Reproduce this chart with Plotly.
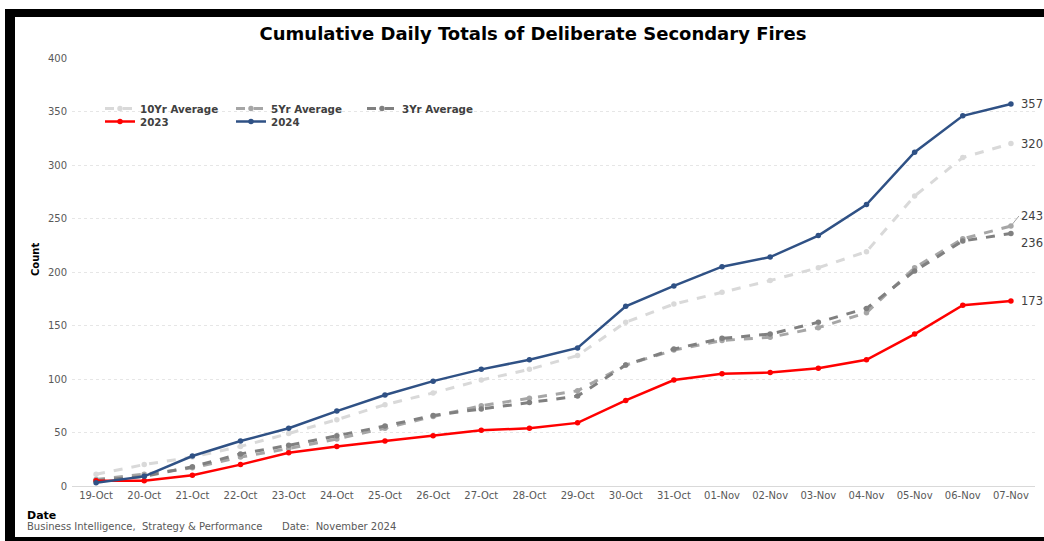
import plotly.graph_objects as go

dates = ["19-Oct", "20-Oct", "21-Oct", "22-Oct", "23-Oct", "24-Oct", "25-Oct", "26-Oct",
         "27-Oct", "28-Oct", "29-Oct", "30-Oct", "31-Oct", "01-Nov", "02-Nov", "03-Nov",
         "04-Nov", "05-Nov", "06-Nov", "07-Nov"]
avg10 = [11, 20, 27, 37, 49, 62, 76, 87, 99, 109, 122, 153, 170, 181, 192, 204, 219, 271, 307, 320]
avg5 = [6, 11, 17, 27, 35, 44, 54, 65, 75, 82, 89, 113, 127, 136, 139, 148, 162, 204, 231, 243]
avg3 = [5, 9, 18, 30, 38, 47, 56, 66, 72, 78, 84, 113, 128, 138, 142, 153, 166, 201, 229, 236]
y2023 = [5, 5, 10, 20, 31, 37, 42, 47, 52, 54, 59, 80, 99, 105, 106, 110, 118, 142, 169, 173]
y2024 = [3, 9, 28, 42, 54, 70, 85, 98, 109, 118, 129, 168, 187, 205, 214, 234, 263, 312, 346, 357]
y_ticks = [0, 50, 100, 150, 200, 250, 300, 350, 400]

FONT = "DejaVu Sans"
fig = go.Figure()

def add(name, y, color, dash, width, legend):
    fig.add_trace(go.Scatter(
        x=dates, y=y, name=name, mode="lines+markers",
        line=dict(color=color, dash=dash, width=width),
        marker=dict(color=color, size=5.5),
        legend=legend))

add("10Yr Average", avg10, "#D9D9D9", "dash", 3, "legend")
add("5Yr Average", avg5, "#A6A6A6", "dash", 3, "legend")
add("3Yr Average", avg3, "#808080", "dash", 3, "legend")
add("2023", y2023, "#FF0000", "solid", 2.5, "legend2")
add("2024", y2024, "#2F5185", "solid", 2.5, "legend2")

W, H = 1044, 541
L, R, T, B = 72, 9, 58, 55
pw, ph = W - L - R, H - T - B

def px(x):
    return (x - L) / pw

def py(y):
    return (H - B - y) / ph

label_font = dict(family=FONT, size=11.5, color="#404040")
ann = []
last = dates[-1]
ann.append(dict(x=last, y=y2024[-1], text=str(y2024[-1]), showarrow=False, xanchor="left", xshift=8, font=label_font))
ann.append(dict(x=last, y=avg10[-1], text=str(avg10[-1]), showarrow=False, xanchor="left", xshift=8, font=label_font))
ann.append(dict(x=last, y=avg5[-1], text=str(avg5[-1]), showarrow=True, arrowhead=0, arrowwidth=1,
                arrowcolor="#A6A6A6", ax=8, ay=-10, xanchor="left", font=label_font))
ann.append(dict(x=last, y=avg3[-1], text=str(avg3[-1]), showarrow=False, xanchor="left", xshift=8, yshift=-10, font=label_font))
ann.append(dict(x=last, y=y2023[-1], text=str(y2023[-1]), showarrow=False, xanchor="left", xshift=8, font=label_font))

ann.append(dict(xref="paper", yref="paper", x=px(35), y=py(260), text="<b>Count</b>", textangle=-90,
                xanchor="center", yanchor="middle",
                showarrow=False, font=dict(family=FONT, size=10, color="#000000")))
ann.append(dict(xref="paper", yref="paper", x=px(25), y=py(515), text="<b>Date</b>", xanchor="left",
                yanchor="middle", showarrow=False, font=dict(family=FONT, size=11, color="#000000")))
ann.append(dict(xref="paper", yref="paper", x=px(25), y=py(526),
                text="Business Intelligence,  Strategy &amp; Performance", xanchor="left", yanchor="middle",
                showarrow=False, font=dict(family=FONT, size=10, color="#595959")))
ann.append(dict(xref="paper", yref="paper", x=px(280), y=py(526),
                text="Date:  November 2024", xanchor="left", yanchor="middle",
                showarrow=False, font=dict(family=FONT, size=10, color="#595959")))

shapes = [
    dict(type="rect", xref="paper", yref="paper", x0=px(5), x1=px(15), y0=py(541), y1=py(9),
         fillcolor="black", line=dict(width=0), layer="above"),
    dict(type="rect", xref="paper", yref="paper", x0=px(5), x1=px(1044), y0=py(17), y1=py(9),
         fillcolor="black", line=dict(width=0), layer="above"),
    dict(type="rect", xref="paper", yref="paper", x0=px(5), x1=px(1044), y0=py(541), y1=py(537),
         fillcolor="black", line=dict(width=0), layer="above"),
]

legend_font = dict(family=FONT, size=10.3, color="#404040", weight="bold")
fig.update_layout(
    width=W, height=H,
    margin=dict(l=L, r=R, t=T, b=B, autoexpand=False),
    paper_bgcolor="white", plot_bgcolor="white",
    title=dict(text="<b>Cumulative Daily Totals of Deliberate Secondary Fires</b>",
               x=(533 - L) / pw, xref="paper", xanchor="center", y=1 - 34 / H, yanchor="middle",
               font=dict(family=FONT, size=18, color="#000000")),
    xaxis=dict(type="category", categoryorder="array", categoryarray=dates, automargin=False,
               range=[-0.5, len(dates) - 0.5],
               tickfont=dict(family=FONT, size=10, color="#595959"),
               showgrid=False, showline=True, linecolor="#D9D9D9", ticks=""),
    yaxis=dict(range=[0, 400], tickvals=y_ticks, automargin=False, ticklabelstandoff=4,
               tickfont=dict(family=FONT, size=10, color="#595959"),
               showgrid=True, gridcolor="#E6E6E6", griddash="dot", zeroline=False, ticks=""),
    legend=dict(orientation="h", x=px(100), y=py(94), xanchor="left", yanchor="top",
                font=legend_font, entrywidth=86, entrywidthmode="pixels", bgcolor="rgba(0,0,0,0)"),
    legend2=dict(orientation="h", x=px(100), y=py(107), xanchor="left", yanchor="top",
                 font=legend_font, entrywidth=86, entrywidthmode="pixels", bgcolor="rgba(0,0,0,0)"),
    annotations=ann,
    shapes=shapes,
)

fig.write_html("out.html", config={"displayModeBar": False},
               post_script="document.body.style.margin='0';document.body.style.overflow='hidden';")
